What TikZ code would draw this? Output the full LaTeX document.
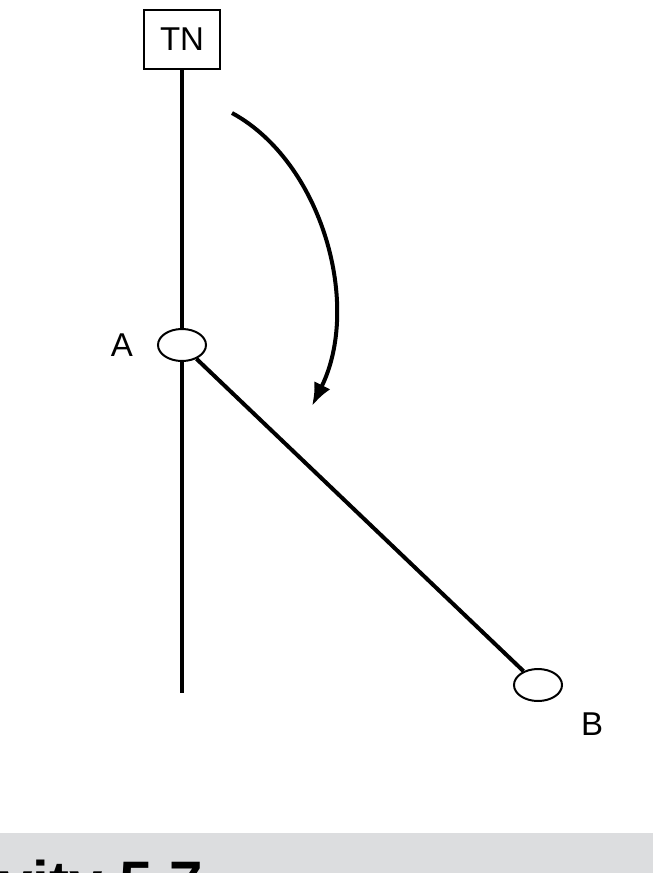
\documentclass[tikz,border=0pt]{standalone}
\usepackage{fontspec}
\setmainfont{Liberation Sans}
\usetikzlibrary{shapes.geometric,arrows.meta}
\definecolor{bandgray}{HTML}{DCDDDF}

\begin{document}
\begin{tikzpicture}[x=1pt,y=-1pt,>={Latex[length=23pt,width=18pt]},
    joint/.style={draw, ellipse, fill=white, line width=2pt, minimum width=48pt, minimum height=32pt, inner sep=0pt},
    lbl/.style={font=\fontsize{33}{38}\selectfont, inner sep=0pt}]

    \useasboundingbox (0,0) rectangle (653,873);
    \clip (0,0) rectangle (653,873);

    \fill[bandgray] (0,833) rectangle (653,873);
    \node[anchor=base east, inner sep=0pt, font=\fontsize{60}{66}\selectfont\bfseries] (title) at (203,903) {Activity 5.7};

    \node[draw, line width=2pt, minimum width=76pt, minimum height=59pt, lbl] (tn) at (182,39.5) {TN};
    \coordinate (bottom) at (182,693);
    \draw[line width=4pt] (tn.south) -- (bottom);

    \node[joint] (a) at (182,345) {};
    \node[joint] (b) at (538,685) {};
    \draw[line width=4pt] (a) -- (b);

    \node[lbl] (labA) at (122,345) {A};
    \node[lbl] (labB) at (592,724) {B};

    \coordinate (swingstart) at (232,113);
    \coordinate (swingend) at (312,406);
    \draw[line width=4pt, ->] (swingstart) .. controls (322,162) and (362,305) .. (swingend);

\end{tikzpicture}
\end{document}
